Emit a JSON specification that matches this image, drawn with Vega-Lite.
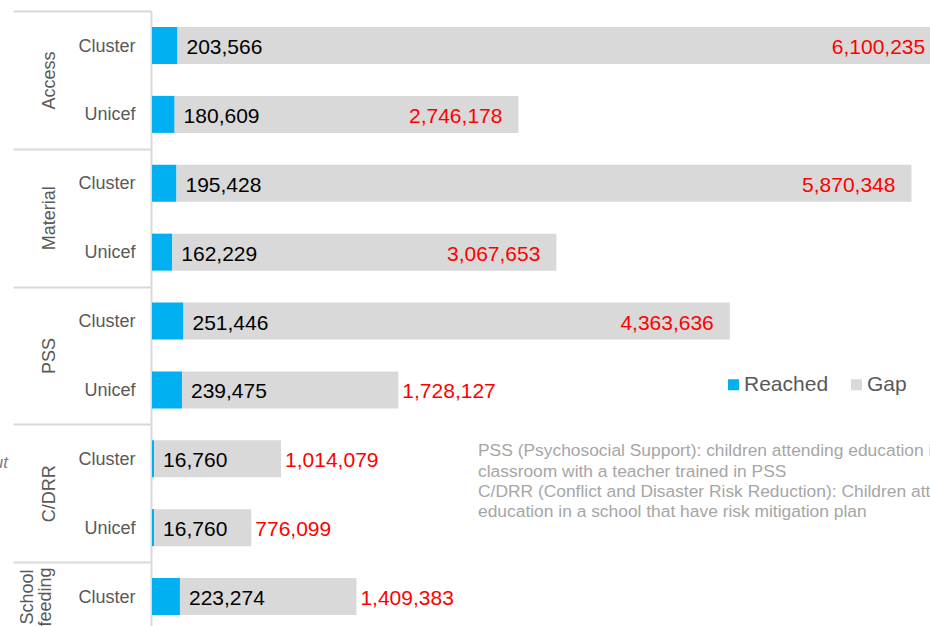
{
  "$schema": "https://vega.github.io/schema/vega-lite/v6.json",
  "autosize": {"type": "none"},
  "padding": {"left": 152, "top": 11, "right": 0, "bottom": 0},
  "width": 778,
  "height": 615,
  "config": {
    "font": "Liberation Sans",
    "view": {"stroke": null},
    "text": {"font": "Liberation Sans"}
  },
  "data": {
    "values": [
      {"row": "Access|Cluster", "series": "Reached", "value": 203566},
      {"row": "Access|Cluster", "series": "Gap", "value": 6100235},
      {"row": "Access|Unicef", "series": "Reached", "value": 180609},
      {"row": "Access|Unicef", "series": "Gap", "value": 2746178},
      {"row": "Material|Cluster", "series": "Reached", "value": 195428},
      {"row": "Material|Cluster", "series": "Gap", "value": 5870348},
      {"row": "Material|Unicef", "series": "Reached", "value": 162229},
      {"row": "Material|Unicef", "series": "Gap", "value": 3067653},
      {"row": "PSS|Cluster", "series": "Reached", "value": 251446},
      {"row": "PSS|Cluster", "series": "Gap", "value": 4363636},
      {"row": "PSS|Unicef", "series": "Reached", "value": 239475},
      {"row": "PSS|Unicef", "series": "Gap", "value": 1728127},
      {"row": "C/DRR|Cluster", "series": "Reached", "value": 16760},
      {"row": "C/DRR|Cluster", "series": "Gap", "value": 1014079},
      {"row": "C/DRR|Unicef", "series": "Reached", "value": 16760},
      {"row": "C/DRR|Unicef", "series": "Gap", "value": 776099},
      {"row": "School feeding|Cluster", "series": "Reached", "value": 223274},
      {"row": "School feeding|Cluster", "series": "Gap", "value": 1409383}
    ]
  },
  "transform": [
    {"stack": "value", "groupby": ["row"], "sort": [{"field": "series", "order": "descending"}], "as": ["v0", "v1"]}
  ],
  "resolve": {"axis": {"y": "independent"}},
  "layer": [
    {
      "mark": {"type": "bar", "clip": true},
      "encoding": {
        "y": {
          "field": "row", "type": "nominal", "sort": null,
          "scale": {
            "domain": ["Access|Cluster", "Access|Unicef", "Material|Cluster", "Material|Unicef", "PSS|Cluster", "PSS|Unicef", "C/DRR|Cluster", "C/DRR|Unicef", "School feeding|Cluster"],
            "paddingInner": 0.4628, "paddingOuter": 0.196, "align": 0.593
          },
          "axis": {
            "orient": "left", "offset": 1, "title": null, "grid": false,
            "domain": true, "domainColor": "#D9D9D9", "domainWidth": 2,
            "ticks": false, "tickSize": 0,
            "labelPadding": 16, "labelFontSize": 18, "labelColor": "#595959",
            "labelFont": "Liberation Sans", "labelAlign": "right", "labelBaseline": "middle",
            "labelOffset": 1, "labelOverlap": false, "labelLimit": 0,
            "labelExpr": "split(datum.label, '|')[1]"
          }
        },
        "x": {"field": "v0", "type": "quantitative", "scale": {"domain": [0, 6214000], "nice": false, "zero": true}, "axis": null},
        "x2": {"field": "v1"},
        "color": {
          "field": "series", "type": "nominal",
          "scale": {"domain": ["Reached", "Gap"], "range": ["#00B0F0", "#D9D9D9"]},
          "legend": {
            "orient": "none", "legendX": 571, "legendY": 363, "direction": "horizontal",
            "title": null, "symbolType": "square", "symbolSize": 121, "symbolStrokeWidth": 0,
            "labelFontSize": 21, "labelColor": "#595959", "labelFont": "Liberation Sans",
            "labelOffset": 0, "columnPadding": 17, "padding": 0
          }
        }
      }
    },
    {
      "transform": [{"filter": "datum.series == 'Reached'"}],
      "mark": {"type": "text", "align": "left", "baseline": "middle", "dx": 9, "dy": 2.5, "fontSize": 21, "color": "#000000"},
      "encoding": {
        "y": {
          "field": "row", "type": "nominal", "sort": null,
          "axis": {
            "orient": "left", "offset": 1, "title": null, "grid": false,
            "domain": false,
            "values": ["Access|Cluster", "Material|Cluster", "PSS|Cluster", "C/DRR|Cluster", "School feeding|Cluster"],
            "ticks": true, "tickSize": 138, "tickColor": "#D9D9D9", "tickWidth": 2, "tickOffset": -34.44,
            "labelAngle": -90, "labelAlign": "center", "labelBaseline": "bottom",
            "labelPadding": {"condition": {"test": "datum.value == 'School feeding|Cluster'", "value": -23}, "value": -45},
            "labelLineHeight": 18,
            "labelOffset": {"condition": {"test": "datum.value == 'School feeding|Cluster'", "value": 34.44}, "value": 68.88},
            "labelFontSize": 18, "labelColor": "#595959", "labelFont": "Liberation Sans",
            "labelOverlap": false, "labelLimit": 0, "labelBound": false,
            "labelExpr": "datum.label == 'School feeding|Cluster' ? ['School', 'feeding'] : split(datum.label, '|')[0]"
          }
        },
        "x": {"field": "v1", "type": "quantitative"},
        "text": {"field": "value", "type": "quantitative", "format": ",d"}
      }
    },
    {
      "transform": [{"filter": "datum.series == 'Gap' && datum.v1 > 2500000"}],
      "mark": {"type": "text", "align": "right", "baseline": "middle", "dx": -16, "dy": 2.5, "fontSize": 21, "color": "#FF0000"},
      "encoding": {
        "y": {"field": "row", "type": "nominal", "sort": null, "axis": null},
        "x": {"field": "v1", "type": "quantitative"},
        "text": {"field": "value", "type": "quantitative", "format": ",d"}
      }
    },
    {
      "transform": [{"filter": "datum.series == 'Gap' && datum.v1 <= 2500000"}],
      "mark": {"type": "text", "align": "left", "baseline": "middle", "dx": 4, "dy": 2.5, "fontSize": 21, "color": "#FF0000"},
      "encoding": {
        "y": {"field": "row", "type": "nominal", "sort": null, "axis": null},
        "x": {"field": "v1", "type": "quantitative"},
        "text": {"field": "value", "type": "quantitative", "format": ",d"}
      }
    },
    {
      "data": {"values": [{"note": ["PSS (Psychosocial Support): children attending education in a", "classroom with a teacher trained in PSS", "C/DRR (Conflict and Disaster Risk Reduction): Children attending", "education in a school that have risk mitigation plan"]}]},
      "transform": [],
      "mark": {"type": "text", "align": "left", "baseline": "alphabetic", "dy": -2.5, "fontSize": 17.4, "lineHeight": 20.4, "color": "#A6A6A6"},
      "encoding": {
        "x": {"datum": 2604000, "type": "quantitative"},
        "y": {"datum": "C/DRR|Cluster", "type": "nominal", "axis": null},
        "text": {"field": "note"}
      }
    },
    {
      "data": {"values": [{"note": "ut"}]},
      "transform": [],
      "mark": {"type": "text", "align": "right", "baseline": "alphabetic", "dy": 9.5, "fontSize": 17, "fontStyle": "italic", "color": "#808080"},
      "encoding": {
        "x": {"datum": -1150000, "type": "quantitative"},
        "y": {"datum": "C/DRR|Cluster", "type": "nominal", "axis": null},
        "text": {"field": "note"}
      }
    }
  ]
}
